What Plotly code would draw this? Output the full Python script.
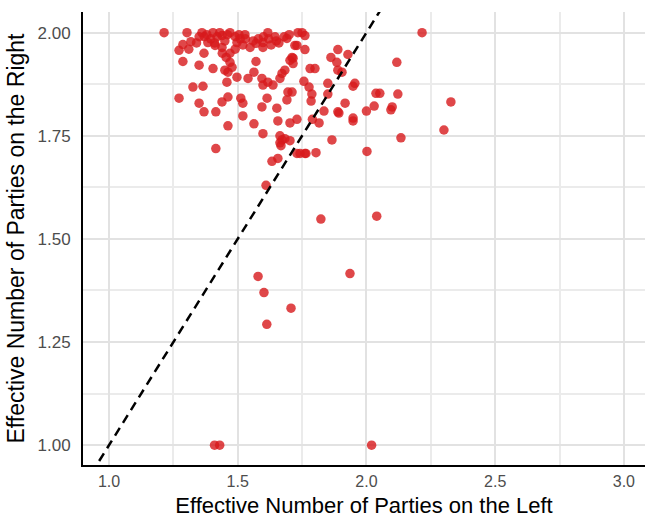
import plotly.graph_objects as go

# Effective number of parties (left, right) per observation
left_enp = [
    1.41, 1.43, 2.02, 1.823, 2.04, 1.579, 1.602, 1.707, 1.613, 1.936,
    2.301, 2.134, 1.866, 2.002, 1.804, 1.765, 1.742, 1.948, 1.893, 1.816,
    1.790, 1.835, 2.000, 2.095, 1.369, 1.415, 1.462, 1.520, 1.563, 1.598,
    1.656, 1.703, 1.730, 1.664, 1.672, 1.664, 1.683, 1.703, 1.668, 1.415,
    1.633, 1.656, 1.730, 1.761, 1.610,
    1.214, 1.303, 1.361, 1.404, 1.439, 1.470, 1.505, 1.528, 1.287, 1.318,
    1.272, 1.369, 1.412, 1.384, 1.439, 1.470, 1.497, 1.287, 1.350, 1.404,
    1.450, 1.470, 1.478, 1.462, 1.497, 1.458, 1.326, 1.365, 1.272, 1.350,
    1.439, 1.462, 1.512, 1.520, 1.540, 1.563, 1.548, 1.571, 1.598, 1.617,
    1.645, 1.598, 1.571, 1.594, 1.598, 1.617, 1.637, 1.672, 1.683, 1.664,
    1.695, 1.691, 1.652, 1.594, 1.614, 1.691, 1.722, 1.703, 1.715, 1.734,
    1.750, 1.761, 1.730, 1.761, 1.711, 1.715, 1.889, 1.862, 1.885, 1.928,
    1.889, 1.905, 1.781, 1.800, 1.757, 1.850, 1.955, 1.948, 1.777, 1.711,
    1.788, 1.850, 1.785, 1.917, 1.889, 2.030, 2.100, 2.037, 2.052, 2.122,
    2.328, 2.118, 2.216, 1.948,
    1.380, 1.395, 1.420, 1.430, 1.450, 1.460, 1.490, 1.510, 1.370, 1.350,
    1.410, 1.440, 1.455, 1.490, 1.520, 1.530, 1.560, 1.580, 1.600, 1.620,
    1.630, 1.650, 1.660, 1.680, 1.700, 1.310, 1.340,
]
right_enp = [
    1.000, 1.000, 1.000, 1.548, 1.555, 1.409, 1.370, 1.332, 1.293, 1.416,
    1.764, 1.745, 1.740, 1.712, 1.709, 1.707, 1.707, 1.786, 1.805, 1.781,
    1.790, 1.810, 1.810, 1.813, 1.808, 1.808, 1.774, 1.798, 1.779, 1.755,
    1.786, 1.781, 1.790, 1.750, 1.740, 1.733, 1.743, 1.738, 1.726, 1.719,
    1.688, 1.695, 1.707, 1.707, 1.630,
    2.000, 2.000, 2.000, 2.000, 1.993, 2.000, 1.995, 1.995, 1.971, 1.978,
    1.957, 1.950, 1.969, 1.976, 1.964, 1.950, 1.976, 1.930, 1.921, 1.913,
    1.909, 1.928, 1.916, 1.904, 1.892, 1.880, 1.868, 1.870, 1.841, 1.829,
    1.832, 1.844, 1.841, 1.829, 1.889, 1.904, 1.964, 1.974, 1.976, 2.000,
    1.990, 1.964, 1.930, 1.889, 1.873, 1.880, 1.873, 1.901, 1.909, 1.889,
    1.856, 1.837, 1.817, 1.820, 1.841, 1.986, 1.969, 1.933, 1.938, 2.000,
    2.000, 1.993, 1.969, 1.959, 1.940, 1.925, 1.959, 1.940, 1.928, 1.947,
    1.909, 1.904, 1.913, 1.913, 1.882, 1.877, 1.877, 1.870, 1.868, 1.856,
    1.851, 1.851, 1.834, 1.829, 1.808, 1.822, 1.820, 1.853, 1.853, 1.851,
    1.832, 1.928, 2.000, 1.793,
    1.995, 1.985, 1.990, 2.000, 1.980, 1.995, 1.990, 1.985, 1.990, 1.990,
    1.975, 1.950, 1.940, 1.960, 1.970, 1.985, 1.980, 1.985, 1.990, 1.985,
    1.970, 1.980, 1.975, 1.990, 1.995, 1.960, 1.975,
]

# 45-degree reference line (y = x)
ref_line = [0.9, 2.1]

x_ticks = [1.0, 1.5, 2.0, 2.5, 3.0]
x_tick_text = ["1.0", "1.5", "2.0", "2.5", "3.0"]
y_ticks = [1.00, 1.25, 1.50, 1.75, 2.00]
y_tick_text = ["1.00", "1.25", "1.50", "1.75", "2.00"]

fig = go.Figure()
fig.add_trace(go.Scatter(
    x=left_enp, y=right_enp, mode="markers",
    marker=dict(size=9.5, color="rgba(215,25,28,0.8)", line=dict(width=0)),
    showlegend=False, hoverinfo="x+y",
))
fig.add_trace(go.Scatter(
    x=ref_line, y=ref_line, mode="lines",
    line=dict(color="black", width=2.5, dash="9px,6px"),
    showlegend=False, hoverinfo="skip",
))

font_family = "Liberation Sans, Arial, Helvetica, sans-serif"
axis_common = dict(
    showline=True, linecolor="black", linewidth=2,
    showgrid=True, gridcolor="#e2e2e2", gridwidth=2,
    zeroline=False, ticks="",
    automargin=False,
)

fig.update_layout(
    width=645, height=518,
    margin=dict(l=83, r=0, t=12, b=53),
    paper_bgcolor="white", plot_bgcolor="white",
    font=dict(family=font_family),
    xaxis=dict(
        range=[0.899, 3.082], tickvals=x_ticks, ticktext=x_tick_text,
        minor=dict(tickvals=[1.25, 1.75, 2.25, 2.75], showgrid=True,
                   gridcolor="#ebebeb", gridwidth=1.5),
        ticklabelstandoff=1,
        tickfont=dict(family=font_family, size=16, color="#4d4d4d"),
        title=dict(text="Effective Number of Parties on the Left",
                   font=dict(family=font_family, size=22, color="black"),
                   standoff=10),
        **axis_common,
    ),
    yaxis=dict(
        range=[0.952, 2.05], tickvals=y_ticks, ticktext=y_tick_text,
        minor=dict(tickvals=[1.125, 1.375, 1.625, 1.875], showgrid=True,
                   gridcolor="#ebebeb", gridwidth=1.5),
        ticklabelstandoff=7,
        tickfont=dict(family=font_family, size=17, color="#4d4d4d"),
        title=dict(text="Effective Number of Parties on the Right",
                   font=dict(family=font_family, size=23, color="black"),
                   standoff=6),
        **axis_common,
    ),
)

fig.write_html("out.html")
